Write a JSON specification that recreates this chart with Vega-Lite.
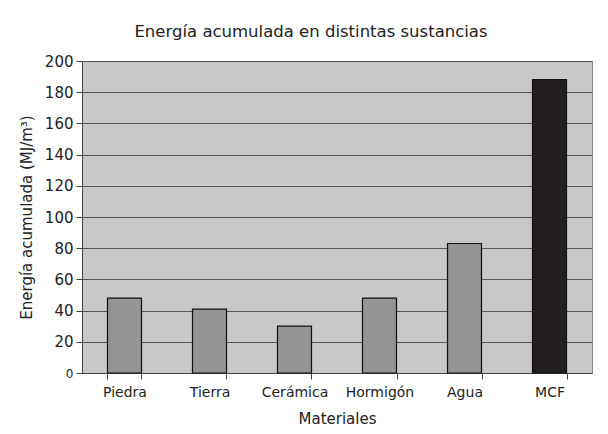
{
  "$schema": "https://vega.github.io/schema/vega-lite/v6.json",
  "autosize": "none",
  "width": 510,
  "height": 312,
  "padding": {"left": 82, "top": 61, "right": 16, "bottom": 61},
  "background": "white",
  "title": {
    "text": "Energía acumulada en distintas sustancias",
    "font": "DejaVu Sans",
    "fontSize": 16.5,
    "fontWeight": "normal",
    "color": "#222222",
    "anchor": "middle",
    "dx": -26,
    "offset": 14
  },
  "data": {
    "values": [
      {"material": "Piedra", "energia": 48, "tipo": "otro"},
      {"material": "Tierra", "energia": 41, "tipo": "otro"},
      {"material": "Cerámica", "energia": 30, "tipo": "otro"},
      {"material": "Hormigón", "energia": 48, "tipo": "otro"},
      {"material": "Agua", "energia": 83, "tipo": "otro"},
      {"material": "MCF", "energia": 188, "tipo": "mcf"}
    ]
  },
  "mark": {"type": "bar", "stroke": "#111111", "strokeWidth": 1.2},
  "encoding": {
    "x": {
      "field": "material",
      "type": "nominal",
      "sort": null,
      "scale": {"paddingInner": 0.6, "paddingOuter": 0.3},
      "axis": {
        "title": "Materiales",
        "labelAngle": 0,
        "tickBand": "extent",
        "ticks": true,
        "tickSize": 6,
        "tickColor": "#444444",
        "domainColor": "#444444",
        "labelFont": "DejaVu Sans",
        "labelFontSize": 14,
        "labelColor": "#222222",
        "labelPadding": 6,
        "titleFont": "DejaVu Sans",
        "titleFontSize": 15,
        "titleFontWeight": "normal",
        "titleColor": "#222222",
        "titlePadding": 12
      }
    },
    "y": {
      "field": "energia",
      "type": "quantitative",
      "scale": {"domain": [0, 200], "nice": false},
      "axis": {
        "title": "Energía acumulada (MJ/m³)",
        "values": [0, 20, 40, 60, 80, 100, 120, 140, 160, 180, 200],
        "grid": true,
        "gridColor": "#555555",
        "gridWidth": 1.2,
        "gridOpacity": 1,
        "tickSize": 6,
        "tickColor": "#444444",
        "domainColor": "#444444",
        "labelFont": "DejaVu Sans",
        "labelFontSize": {"condition": {"test": "datum.value === 0", "value": 12}, "value": 15},
        "labelColor": "#222222",
        "labelPadding": 3,
        "titleFont": "DejaVu Sans",
        "titleFontSize": 15,
        "titleFontWeight": "normal",
        "titleColor": "#222222",
        "titlePadding": 10
      }
    },
    "color": {
      "field": "tipo",
      "type": "nominal",
      "scale": {"domain": ["otro", "mcf"], "range": ["#949497", "#231f20"]},
      "legend": null
    }
  },
  "config": {
    "view": {"fill": "#c8c8ca", "stroke": "#888888", "strokeWidth": 1}
  }
}
